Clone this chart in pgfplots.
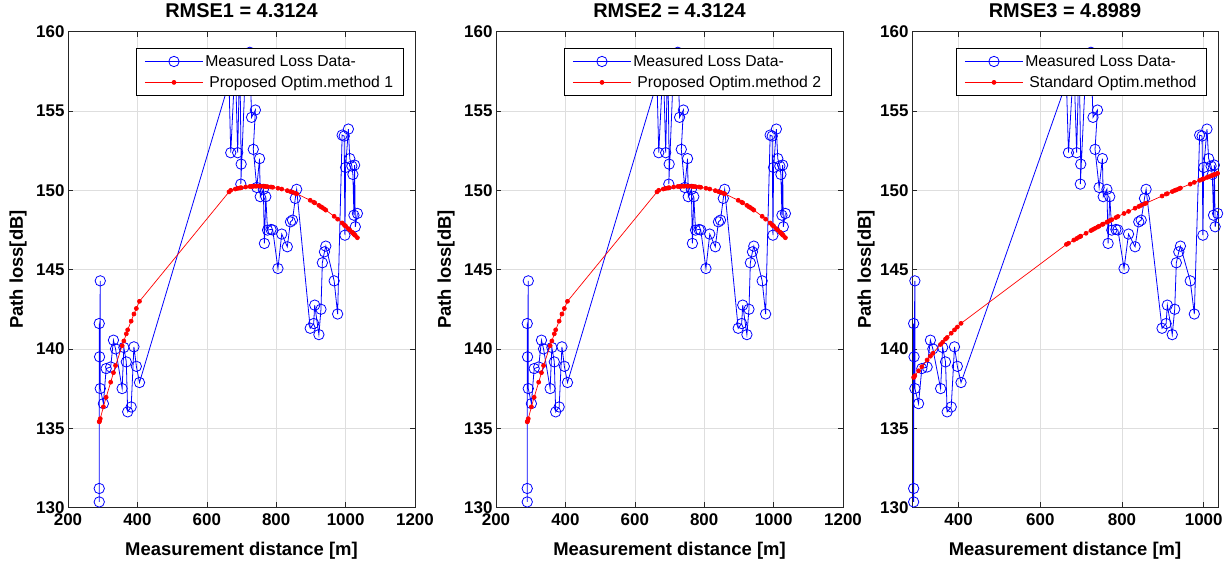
\documentclass[border=0pt]{standalone}
\usepackage{pgfplots}
\pgfplotsset{compat=1.18}
\usepackage{pgfplotstable}
\usepackage{fontspec}
\setmainfont{Liberation Sans}

\pgfplotstableread{
x y
290 130.35
290 131.20
290 141.60
291 139.50
293 144.29
293 137.50
302 136.55
310 138.76
323 138.86
331 140.55
337 140.00
356 137.50
361 140.09
368 139.18
372 136.03
382 136.34
390 140.13
397 138.90
406 137.88
664 156.80
669 152.37
682 158.20
689 152.37
695 158.50
699 151.65
698 150.39
712 158.00
724 158.70
729 154.60
740 155.06
734 152.58
744 150.18
752 152.00
754 149.60
763 150.06
766 146.65
770 149.60
775 147.49
785 147.53
790 147.50
805 145.07
816 147.24
832 146.44
841 148.01
847 148.12
855 149.49
859 150.06
898 141.30
908 141.60
911 142.76
923 140.90
929 142.50
933 145.43
939 146.12
943 146.48
967 144.29
977 142.20
990 153.48
996 153.42
998 147.17
1000 151.44
1008 153.86
1012 152.00
1018 151.53
1021 151.00
1024 148.43
1026 151.59
1028 147.70
1034 148.54
}\meas

\pgfplotstableread{
x y
290 135.40
291 135.45
293 135.60
302 136.35
310 136.95
323 137.90
331 138.50
337 138.95
356 140.20
361 140.50
368 140.95
372 141.20
382 141.75
390 142.20
397 142.55
406 143.00
664 149.90
669 150.00
682 150.08
689 150.12
695 150.14
698 150.16
699 150.16
712 150.21
724 150.24
729 150.24
734 150.25
740 150.26
744 150.26
752 150.26
754 150.26
763 150.25
766 150.25
770 150.24
775 150.23
785 150.21
790 150.19
805 150.13
816 150.08
832 149.98
841 149.92
847 149.88
855 149.81
859 149.78
898 149.37
908 149.25
911 149.21
923 149.05
929 148.96
933 148.91
939 148.82
943 148.75
967 148.36
977 148.18
990 147.94
996 147.82
998 147.78
1000 147.74
1008 147.58
1012 147.49
1018 147.37
1021 147.30
1024 147.24
1026 147.19
1028 147.15
1034 147.01
}\fitone

\pgfplotstableread{
x y
290 138.20
291 138.24
293 138.31
302 138.62
310 138.88
323 139.30
331 139.54
337 139.72
356 140.28
361 140.42
368 140.62
372 140.72
382 140.99
390 141.20
397 141.38
406 141.61
664 146.59
669 146.66
682 146.86
689 146.96
695 147.05
698 147.09
699 147.11
712 147.29
724 147.46
729 147.53
734 147.60
740 147.68
744 147.74
752 147.85
754 147.87
763 147.99
766 148.03
770 148.09
775 148.15
785 148.28
790 148.35
805 148.54
816 148.67
832 148.87
841 148.98
847 149.05
855 149.15
859 149.19
898 149.64
908 149.76
911 149.79
923 149.92
929 149.99
933 150.03
939 150.09
943 150.14
967 150.39
977 150.50
990 150.63
996 150.69
998 150.71
1000 150.73
1008 150.81
1012 150.85
1018 150.91
1021 150.94
1024 150.97
1026 150.99
1028 151.01
1034 151.07
}\fitthree

\pgfplotsset{
  myaxis/.style={
    scale only axis, height=475.8bp,
    ymin=130, ymax=160, ytick={130,135,...,160},
    grid=major, grid style={color=black!13, line width=0.5bp},
    axis line style={line width=0.6bp, color=black!85},
    major tick length=5bp, tick style={color=black!85, line width=0.5bp},
    tick label style={font=\bfseries\fontsize{17}{19}\selectfont},
    /pgf/number format/assume math mode=true,
    /pgf/number format/1000 sep={},
    xticklabel style={yshift=-3bp},
    title style={font=\bfseries\fontsize{20}{22}\selectfont, at={(axis description cs:0.5,1.018)}, anchor=base},
    label style={font=\bfseries\fontsize{18.5}{20}\selectfont},
    xlabel style={at={(axis description cs:0.5,-0.0914)}, anchor=center},
    xlabel={Measurement distance [m]}, ylabel={Path loss[dB]},
    clip mode=individual,
    legend cell align=left,
    legend style={at={(axis description cs:0.9663,0.965)}, anchor=north east,
      font=\fontsize{15.8}{17}\selectfont,
      inner xsep=8bp, inner ysep=4.5bp, row sep=4bp},
    legend image code/.code={\draw[mark repeat=2,mark phase=2,##1] plot coordinates {(0bp,0bp) (29bp,0bp) (58bp,0bp)};},
  },
  meas/.style={color=blue, line width=0.8bp, mark=o, mark size=5.2bp, mark options={line width=0.8bp, solid}},
  fit/.style={color=red, line width=0.7bp, mark=*, mark size=2bp, mark options={solid}},
}

\begin{document}
\begin{tikzpicture}
\path[use as bounding box] (0,0) rectangle (1232bp,567bp);

\begin{axis}[myaxis, at={(68bp,59.5bp)}, anchor=south west, width=347bp,
  xmin=200, xmax=1200, xtick={200,400,...,1200},
  ylabel style={at={(axis description cs:-0.144,0.5)}, anchor=center},
  title={RMSE1 = 4.3124}]
\addplot[meas] table[x=x,y=y] {\meas};
\addlegendentry{Measured Loss Data-}
\addplot[fit] table[x=x,y=y] {\fitone};
\addlegendentry{\hspace{4bp}Proposed Optim.method 1}
\end{axis}

\begin{axis}[myaxis, at={(496bp,59.5bp)}, anchor=south west, width=347bp,
  xmin=200, xmax=1200, xtick={200,400,...,1200},
  ylabel style={at={(axis description cs:-0.144,0.5)}, anchor=center},
  title={RMSE2 = 4.3124}]
\addplot[meas] table[x=x,y=y] {\meas};
\addlegendentry{Measured Loss Data-}
\addplot[fit] table[x=x,y=y] {\fitone};
\addlegendentry{\hspace{4bp}Proposed Optim.method 2}
\end{axis}

\begin{axis}[myaxis, at={(912bp,59.5bp)}, anchor=south west, width=306bp,
  xmin=286, xmax=1035, xtick={400,600,800,1000},
  ylabel style={at={(axis description cs:-0.150,0.5)}, anchor=center},
  legend style={at={(axis description cs:0.963,0.965)}},
  title={RMSE3 = 4.8989}]
\addplot[meas] table[x=x,y=y] {\meas};
\addlegendentry{Measured Loss Data-}
\addplot[fit] table[x=x,y=y] {\fitthree};
\addlegendentry{\hspace{4bp}Standard Optim.method}
\end{axis}
\end{tikzpicture}
\end{document}
